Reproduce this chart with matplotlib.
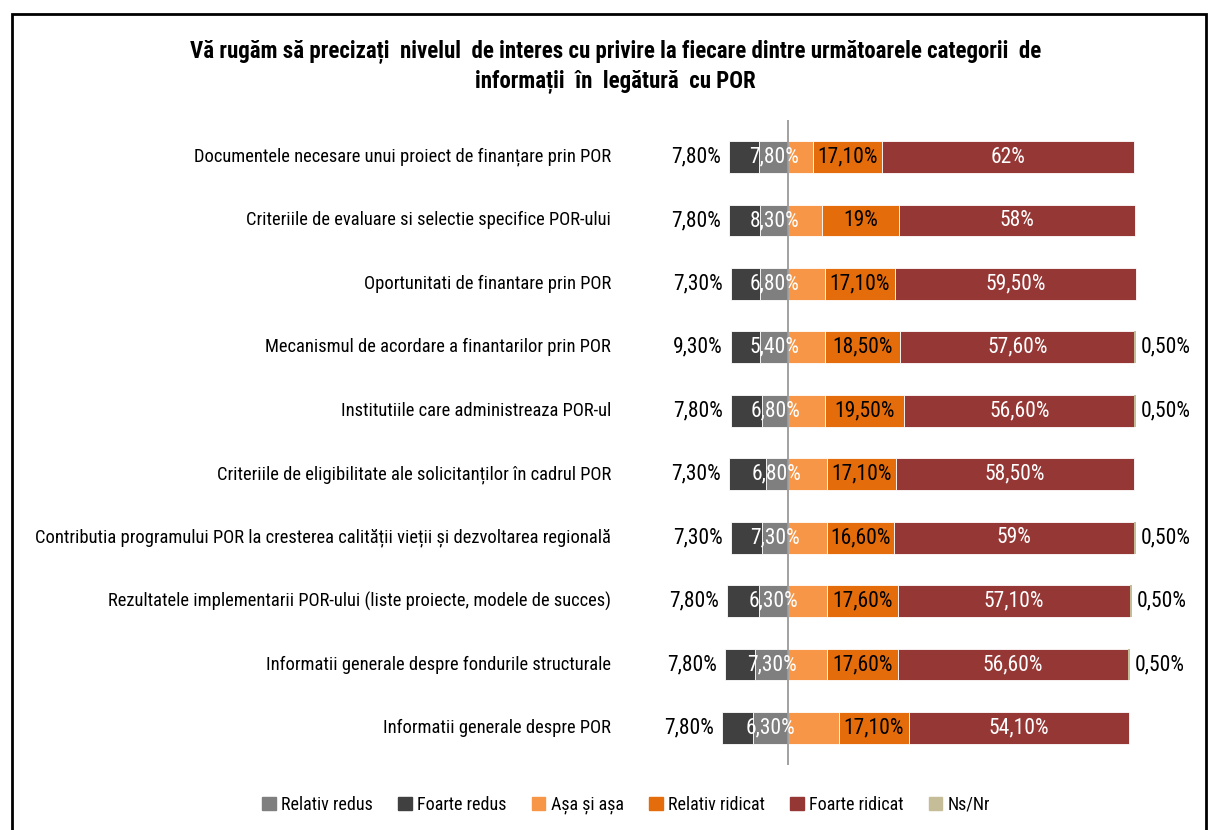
import matplotlib.pyplot as plt
import matplotlib.patches as mpatches
import numpy as np

plt.rcParams['font.family'] = ['Roboto Condensed', 'DejaVu Sans']

categories = [
    'Documentele necesare unui proiect de finanțare prin POR',
    'Criteriile de evaluare si selectie specifice POR-ului',
    'Oportunitati de finantare prin POR',
    'Mecanismul de acordare a finantarilor prin POR',
    'Institutiile care administreaza POR-ul',
    'Criteriile de eligibilitate ale solicitanților în cadrul POR',
    'Contributia programului POR la cresterea calității vieții și dezvoltarea regională',
    'Rezultatele implementarii POR-ului (liste proiecte, modele de succes)',
    'Informatii generale despre fondurile structurale',
    'Informatii generale despre POR',
]

# segment sizes (%), as drawn
foarte_redus = [7.3, 7.8, 7.3, 7.3, 7.8, 9.1, 7.8, 7.8, 7.3, 7.8]
relativ_redus = [7.1, 6.8, 6.8, 6.8, 6.3, 5.4, 6.3, 7.1, 8.1, 8.5]
asa_si_asa = [6.1, 8.4, 9.1, 9.1, 9.1, 9.5, 9.5, 9.5, 9.5, 12.6]
relativ_ridicat = [17.1, 19, 17.1, 18.5, 19.5, 17.1, 16.6, 17.6, 17.6, 17.1]
foarte_ridicat = [62, 58, 59.5, 57.6, 56.6, 58.5, 59, 57.1, 56.6, 54.1]
ns_nr = [0, 0, 0, 0.5, 0.5, 0, 0.5, 0.5, 0.5, 0]

# data labels as printed on the chart
foarte_redus_lbl = [7.8, 7.8, 7.3, 9.3, 7.8, 7.3, 7.3, 7.8, 7.8, 7.8]
relativ_redus_lbl = [7.8, 8.3, 6.8, 5.4, 6.8, 6.8, 7.3, 6.3, 7.3, 6.3]

legend_names = ['Relativ redus', 'Foarte redus', 'Așa și așa',
                'Relativ ridicat', 'Foarte ridicat', 'Ns/Nr']
colors = ['#7f7f7f', '#404040', '#f79646', '#e46c0a', '#953735', '#c4bd97']


def fmt(v):
    if float(v).is_integer():
        return f'{int(v)}%'
    return f'{v:.2f}%'.replace('.', ',')


fig = plt.figure(figsize=(12.09, 8.30), dpi=100)
ax = fig.add_axes([620 / 1209, 1 - 765 / 830, 580 / 1209, 645 / 830])

y = np.arange(len(categories))
fr = np.array(foarte_redus)
rr = np.array(relativ_redus)
aa = np.array(asa_si_asa)
ri = np.array(relativ_ridicat)
fri = np.array(foarte_ridicat)
ns = np.array(ns_nr)
h = 0.5
ek = dict(edgecolor='white', linewidth=0.6)

ax.barh(y, -rr, height=h, color=colors[0], **ek)
ax.barh(y, -fr, left=-rr, height=h, color=colors[1], **ek)
ax.barh(y, aa, height=h, color=colors[2], **ek)
ax.barh(y, ri, left=aa, height=h, color=colors[3], **ek)
ax.barh(y, fri, left=aa + ri, height=h, color=colors[4], **ek)
ax.barh(y, ns, left=aa + ri + fri, height=h, color=colors[5], linewidth=0)

fs = 15.5
for i in y:
    left_edge = -(rr[i] + fr[i])
    ax.text(left_edge - 2.0, i, fmt(foarte_redus_lbl[i]), ha='right', va='center',
            fontsize=fs, color='black')
    ax.text(-rr[i] / 2, i, fmt(relativ_redus_lbl[i]), ha='center', va='center',
            fontsize=fs, color='white')
    ax.text(aa[i] + ri[i] / 2, i, fmt(ri[i]), ha='center', va='center',
            fontsize=fs, color='black')
    ax.text(aa[i] + ri[i] + fri[i] / 2, i, fmt(fri[i]), ha='center', va='center',
            fontsize=fs, color='white')
    if ns[i] > 0:
        ax.text(aa[i] + ri[i] + fri[i] + ns[i] + 1.2, i, fmt(ns[i]), ha='left',
                va='center', fontsize=fs, color='black')
    ax.text(-43.5, i, categories[i], ha='right', va='center', fontsize=13.3,
            color='black', clip_on=False)

ax.axvline(0, color='#9a9a9a', linewidth=1.3)
ax.set_xlim((620 - 788) / 4.065, (1200 - 788) / 4.065)
ax.set_ylim(9 + 37 / 63.44, -37 / 63.44)
ax.axis('off')

fig.text(0.509, 1 - 52 / 830,
         'Vă rugăm să precizați  nivelul  de interes cu privire la fiecare dintre următoarele categorii  de',
         ha='center', va='center', fontsize=16.5, fontweight='bold')
fig.text(0.509, 1 - 82 / 830, 'informații  în  legătură  cu POR',
         ha='center', va='center', fontsize=16.5, fontweight='bold')

handles = [mpatches.Patch(color=c, label=n) for c, n in zip(colors, legend_names)]
fig.legend(handles=handles, loc='center', bbox_to_anchor=(0.518, 1 - 805 / 830),
           ncol=6, frameon=False, fontsize=13, handlelength=0.75,
           handleheight=0.75, handletextpad=0.3, columnspacing=1.4)

fig.patches.append(mpatches.Rectangle((12 / 1209, -0.05), 1194 / 1209, 1.05 - 14 / 830,
                                      transform=fig.transFigure, fill=False,
                                      edgecolor='black', linewidth=2))

fig.savefig('out.png', dpi=100)
